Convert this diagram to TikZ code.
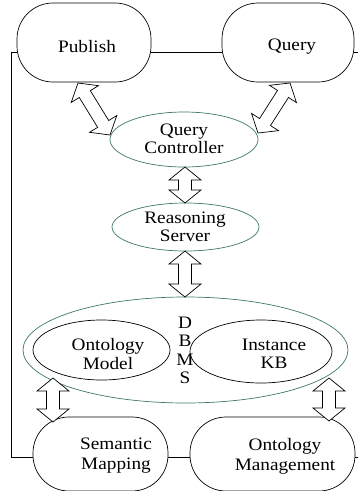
\documentclass[tikz,border=0pt]{standalone}
\usepackage{fontspec}
\setmainfont{Liberation Serif}[FakeStretch=1.1]
\usetikzlibrary{shapes.geometric,calc}
\definecolor{egreen}{HTML}{3D7A5E}
\tikzset{
  box/.style={draw, rectangle, rounded corners=36pt, line width=0.7pt, inner sep=0pt},
  ell/.style={draw, ellipse, line width=0.7pt, inner sep=0pt},
  gell/.style={ell, draw=egreen},
  lbl/.style={align=center, font=\fontsize{17.5}{18.5}\selectfont, inner sep=0pt},
  conn/.style={line width=0.7pt},
  harrow/.style={draw, fill=white, line width=0.7pt, line join=miter}
}
\newcommand\hollowarrow[2]{%
  \path let \p1=($(#2)-(#1)$), \n1={atan2(\y1,\x1)}, \n2={veclen(\x1,\y1)} in
    [harrow] (#1)
    -- ($(#1)+(\n1:13pt)+(\n1+90:16pt)$)
    -- ($(#1)+(\n1:13pt)+(\n1+90:6.5pt)$)
    -- ($(#1)+(\n1:\n2-13pt)+(\n1+90:6.5pt)$)
    -- ($(#1)+(\n1:\n2-13pt)+(\n1+90:16pt)$)
    -- (#2)
    -- ($(#1)+(\n1:\n2-13pt)+(\n1-90:16pt)$)
    -- ($(#1)+(\n1:\n2-13pt)+(\n1-90:6.5pt)$)
    -- ($(#1)+(\n1:13pt)+(\n1-90:6.5pt)$)
    -- ($(#1)+(\n1:13pt)+(\n1-90:16pt)$)
    -- cycle;%
}
\begin{document}
\begin{tikzpicture}[x=1pt,y=-1pt]
\useasboundingbox (0,0) rectangle (358,491);
% boxes
\node[box, minimum width=134pt, minimum height=79pt] (pub) at (84,42.5) {};
\node[box, minimum width=132pt, minimum height=79pt] (qry) at (288,42.5) {};
\node[box, minimum width=135pt, minimum height=74pt] (sm) at (100.5,454) {};
\node[box, minimum width=165pt, minimum height=74pt] (mg) at (272.5,454) {};
% ellipses
\node[gell, minimum width=148pt, minimum height=55pt] (qc) at (184,139.5) {};
\node[gell, minimum width=147pt, minimum height=48pt] (rs) at (185.5,227) {};
\node[gell, minimum width=325pt, minimum height=106pt] (db) at (185.5,350) {};
\node[ell, minimum width=137pt, minimum height=60pt] (om) at (101.5,350) {};
\node[ell, minimum width=142pt, minimum height=63pt] (kb) at (261,351.5) {};
% labels
\node[lbl] (tpub) at (87,46.5) {Publish};
\node[lbl] (tqry) at (292,46.5) {Query};
\node[lbl] (tqc) at (184,139) {Query\\Controller};
\node[lbl] (trs) at (185,227) {Reasoning\\Server};
\node[lbl] (tom) at (108,354) {Ontology\\Model};
\node[lbl] (tkb) at (274,354) {Instance\\KB};
\node[lbl, font=\fontsize{17.5}{18.5}\selectfont] (tdb) at (185,350.5) {D\\B\\M\\S};
\node[lbl, font=\fontsize{17.5}{20}\selectfont] (tsm) at (116,456) {Semantic\\Mapping};
\node[lbl, font=\fontsize{17.5}{20}\selectfont] (tmg) at (285,456) {Ontology\\Management};
% plain connectors
\coordinate (lt) at ([yshift=-9.5pt]pub.west);
\coordinate (ltx) at ([xshift=-5pt]lt);
\coordinate (rt) at ([yshift=-9.5pt]qry.east);
\coordinate (rtx) at (358,52);
\coordinate (rb) at ([yshift=-3pt]mg.east);
\coordinate (rbx) at (358,457);
\draw[conn] ([yshift=-9.5pt]pub.east) -- ([yshift=-9.5pt]qry.west);
\draw[conn] (lt) -- (ltx) |- ([yshift=-3pt]sm.west);
\draw[conn] ([yshift=-3pt]sm.east) -- ([yshift=-3pt]mg.west);
\draw[conn] (rt) -- (rtx);
\draw[conn] (rb) -- (rbx);
% hollow double arrows
\coordinate (a1) at (78,83);   \coordinate (a2) at (110,135);
\coordinate (b1) at (290,83);  \coordinate (b2) at (258,133);
\coordinate (c1) at (185,167); \coordinate (c2) at (185,203);
\coordinate (d1) at (185,251); \coordinate (d2) at (185,297);
\coordinate (e1) at (53,378);  \coordinate (e2) at (53,422);
\coordinate (f1) at (329,378); \coordinate (f2) at (329,421);
\hollowarrow{a1}{a2}
\hollowarrow{b1}{b2}
\hollowarrow{c1}{c2}
\hollowarrow{d1}{d2}
\hollowarrow{e1}{e2}
\hollowarrow{f1}{f2}
\end{tikzpicture}
\end{document}
